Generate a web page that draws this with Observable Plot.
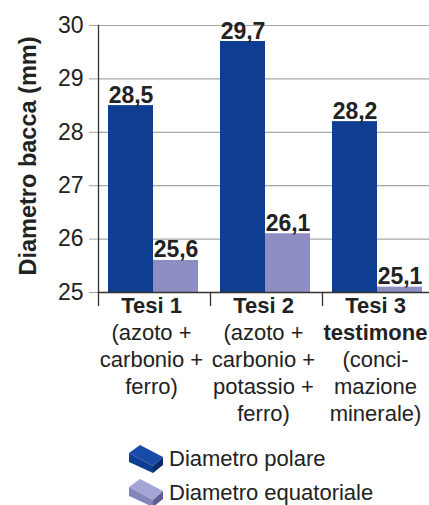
<!DOCTYPE html>
<html>
<head>
<meta charset="utf-8">
<script src="https://cdn.jsdelivr.net/npm/d3@7"></script>
<script src="https://cdn.jsdelivr.net/npm/@observablehq/plot@0.6"></script>
<style>
  html, body { margin: 0; padding: 0; background: #fff; overflow: hidden; }
  body { width: 429px; height: 505px; position: relative; font-family: "Liberation Sans", Arial, sans-serif; color: #222; }
  #legend { position: absolute; left: 129px; top: 442px; }
  .row { display: flex; align-items: center; height: 34px; }
  .row svg { margin-right: 5px; flex: none; }
  .row span { font-size: 22px; color: #222; }
</style>
</head>
<body>
<div id="chart"></div>
<div id="legend"></div>
<script>
const groups = ["Tesi 1", "Tesi 2", "Tesi 3"];
const seriesNames = ["Diametro polare", "Diametro equatoriale"];
const polare = [28.5, 29.7, 28.2];
const equatoriale = [25.6, 26.1, 25.1];
const yTicks = [25, 26, 27, 28, 29, 30];
const yTitle = "Diametro bacca (mm)";
const boldLines = [["Tesi 1"], ["Tesi 2"], ["Tesi 3", "testimone"]];
const noteLines = [
  ["(azoto +", "carbonio +", "ferro)"],
  ["(azoto +", "carbonio +", "potassio +", "ferro)"],
  ["(conci-", "mazione", "minerale)"]
];
const colors = ["#0f3d91", "#8e8ec3"];
const iconShades = [
  ["#1a4aa8", "#0f3d91", "#0a2a6c"],
  ["#a4a4d6", "#8585bd", "#5e5e92"]
];

const rows = groups.flatMap((g, i) => [
  {group: g, series: seriesNames[0], value: polare[i]},
  {group: g, series: seriesNames[1], value: equatoriale[i]}
]);

const labelRows = groups.flatMap((g, gi) =>
  [...boldLines[gi].map(t => ({group: g, text: t, bold: true})),
   ...noteLines[gi].map(t => ({group: g, text: t, bold: false}))]
  .map((d, i) => ({...d, line: i}))
);

const fmt = v => v.toFixed(1).replace(".", ",");

const labelMarks = [];
const maxLine = d3.max(labelRows, d => d.line);
for (let line = 0; line <= maxLine; line++) {
  for (const bold of [true, false]) {
    const sub = labelRows.filter(d => d.line === line && d.bold === bold);
    if (!sub.length) continue;
    labelMarks.push(Plot.text(sub, {
      fx: "group", text: "text", frameAnchor: "bottom",
      dy: 20 + 27 * line, dx: -3,
      fontSize: 22, fontWeight: bold ? "bold" : "normal", fill: "#222"
    }));
  }
}

const chart = Plot.plot({
  width: 429,
  height: 440,
  marginLeft: 97,
  marginRight: -5,
  marginTop: 25,
  marginBottom: 148,
  style: {fontFamily: "Liberation Sans, Arial, sans-serif", background: "white", overflow: "visible"},
  fx: {domain: groups, paddingInner: 0, paddingOuter: 0, axis: null, label: null},
  x: {domain: seriesNames, paddingInner: 0, paddingOuter: 0.22, align: 0.45, axis: null},
  y: {domain: [yTicks[0], yTicks[yTicks.length - 1]], axis: null},
  color: {domain: seriesNames, range: colors},
  marks: [
    Plot.gridY({ticks: yTicks.slice(1), stroke: "#a8a8a8", strokeOpacity: 1, strokeWidth: 1.2}),
    Plot.axisY({ticks: yTicks, tickSize: 9, tickPadding: 6, stroke: "#a0a0a0", fill: "#222", fontSize: 23, label: null, tickFormat: d => String(d)}),
    Plot.barY(rows, {fx: "group", x: "series", y1: yTicks[0], y2: "value", fill: "series"}),
    Plot.ruleY([yTicks[0]], {stroke: "#333", strokeWidth: 1.3}),
    Plot.frame({anchor: "left", fx: () => groups[0], stroke: "#333", strokeWidth: 1.3}),
    Plot.frame({anchor: "left", insetTop: 267, insetBottom: -13, stroke: "#333", strokeWidth: 1.3}),
    Plot.text(rows, {fx: "group", x: "series", y: "value", text: d => fmt(d.value), lineAnchor: "bottom", dy: -3, fontSize: 23, fontWeight: "bold", fill: "#222"}),
    Plot.text([yTitle], {fx: () => groups[0], frameAnchor: "left", textAnchor: "middle", rotate: -90, dx: -70, dy: -3, fontSize: 23.5, fontWeight: "bold", fill: "#222"}),
    ...labelMarks
  ]
});
document.getElementById("chart").appendChild(chart);

const legend = document.getElementById("legend");
seriesNames.forEach((name, i) => {
  const [top, front, side] = iconShades[i];
  const row = document.createElement("div");
  row.className = "row";
  row.innerHTML = `<svg width="35" height="30" viewBox="0 0 35 30">
    <polygon points="0,9 11,1 34,13 24,22" fill="${top}"/>
    <polygon points="0,9 24,22 24,29 0,18" fill="${front}"/>
    <polygon points="24,22 34,13 34,21 24,29" fill="${side}"/>
  </svg><span>${name}</span>`;
  legend.appendChild(row);
});
</script>
</body>
</html>
